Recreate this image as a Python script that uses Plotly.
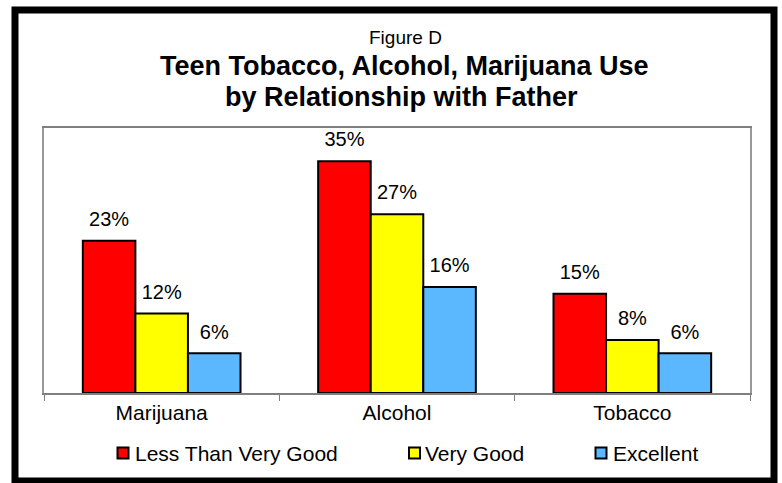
import plotly.graph_objects as go

categories = ["Marijuana", "Alcohol", "Tobacco"]
less_than_very_good = [23, 35, 15]
very_good = [12, 27, 8]
excellent = [6, 16, 6]
series_names = ["Less Than Very Good", "Very Good", "Excellent"]
colors = ["#FF0000", "#FFFF00", "#5BB8FF"]

font_family = "Liberation Sans, Arial, sans-serif"

fig = go.Figure()
for i, (name, vals, col) in enumerate(zip(series_names, [less_than_very_good, very_good, excellent], colors)):
    fig.add_trace(go.Bar(
        name=name, x=categories, y=vals, offsetgroup=str(i), alignmentgroup="a",
        marker=dict(color=col, line=dict(color="black", width=2)),
        showlegend=False,
    ))
for i, vals in enumerate([less_than_very_good, very_good, excellent]):
    fig.add_trace(go.Scatter(
        x=categories, y=vals, offsetgroup=str(i), alignmentgroup="a",
        mode="markers+text", text=[f"{v}%" for v in vals], textposition="top center",
        marker=dict(size=14, opacity=0), showlegend=False, hoverinfo="skip",
        textfont=dict(size=20, color="black", family=font_family), cliponaxis=False,
    ))

fig.update_layout(
    width=782, height=483,
    margin=dict(l=44, r=32, t=128, b=90),
    paper_bgcolor="white", plot_bgcolor="white",
    barmode="group", bargap=0.33, bargroupgap=0,
    scattermode="group", scattergap=0.33,
    font=dict(family=font_family, size=21, color="black"),
    showlegend=False,
    xaxis=dict(showline=True, linecolor="#7f7f7f", linewidth=1.5, mirror=True,
               ticks="outside", tickson="boundaries", ticklen=6, tickcolor="#7f7f7f",
               tickfont=dict(size=21, family=font_family), showgrid=False),
    yaxis=dict(range=[0, 40], showline=True, linecolor="#999999", linewidth=2, mirror=True,
               showticklabels=False, ticks="", showgrid=False, zeroline=False),
)

def py(ypix):
    return (393 - ypix) / 265

def px(xpix):
    return (xpix - 44) / 706

fig.add_annotation(text="Figure D", xref="paper", yref="paper", x=px(405), y=py(37),
                   showarrow=False, font=dict(size=19, family=font_family), yanchor="middle")
fig.add_annotation(text="<b>Teen Tobacco, Alcohol, Marijuana Use</b>", xref="paper", yref="paper",
                   x=px(404), y=py(66), showarrow=False,
                   font=dict(size=27, family=font_family), yanchor="middle")
fig.add_annotation(text="<b>by Relationship with Father</b>", xref="paper", yref="paper",
                   x=px(402), y=py(97), showarrow=False,
                   font=dict(size=27, family=font_family), yanchor="middle")

# custom legend
legend_marker_x = [123, 414.5, 601]
legend_text_x = [133, 423, 611]
legend_y = 453
for name, col, mx, tx in zip(series_names, colors, legend_marker_x, legend_text_x):
    fig.add_shape(type="rect", xref="paper", yref="paper",
                  x0=px(mx - 5.5), x1=px(mx + 5.5), y0=py(legend_y + 5.5), y1=py(legend_y - 5.5),
                  line=dict(color="black", width=2), fillcolor=col)
    fig.add_annotation(text=name, xref="paper", yref="paper", x=px(tx), y=py(legend_y),
                       xanchor="left", yanchor="middle", showarrow=False,
                       font=dict(size=21, family=font_family))

# outer frame
fig.add_shape(type="rect", xref="paper", yref="paper",
              x0=px(15), x1=px(774), y0=py(481), y1=py(10),
              line=dict(color="black", width=7), fillcolor="rgba(0,0,0,0)", layer="below")

fig.write_html("out.html")
